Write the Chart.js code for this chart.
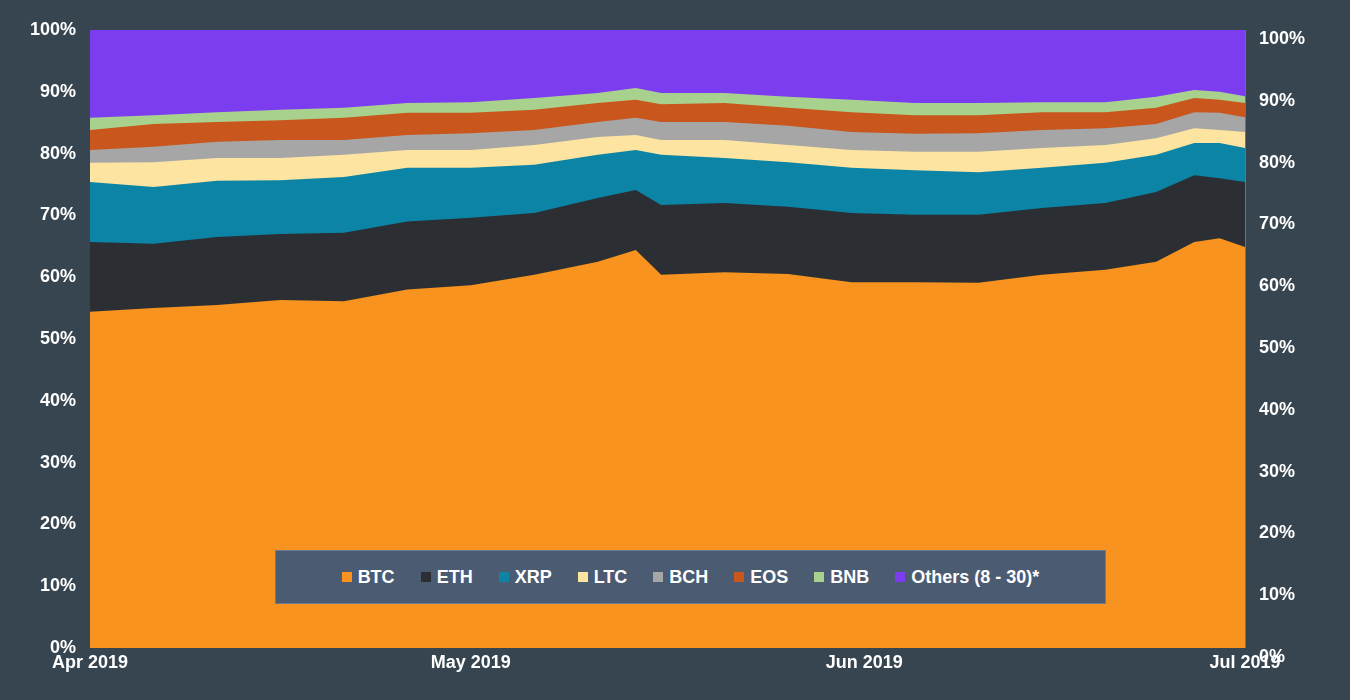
<!DOCTYPE html>
<html><head><meta charset="utf-8">
<script src="https://cdn.jsdelivr.net/npm/chart.js@4"></script>
<style>
html,body{margin:0;padding:0;background:#36454f;}
#wrap{position:relative;width:1350px;height:700px;}
#legend{position:absolute;left:275px;top:550px;width:831px;height:54px;background:#4b5b72;border:1px solid #6a7a90;box-sizing:border-box;display:flex;align-items:center;justify-content:center;gap:26px;font:bold 18px "Liberation Sans",Arial,sans-serif;color:#fff;}
#legend span.i{display:inline-flex;align-items:center;gap:6px;}
#legend b{display:inline-block;width:10px;height:10px;}
</style></head><body>
<div id="wrap"><canvas id="c" width="1350" height="700"></canvas><div id="legend"></div></div>
<script>
const days=[0,5,10,15,20,25,30,35,40,43,45,50,55,60,65,70,75,80,84,87,89,91];
const xTickDays=[0,30,61,91];
const xTickLabels=['Apr 2019','May 2019','Jun 2019','Jul 2019'];
const seriesNames=['BTC','ETH','XRP','LTC','BCH','EOS','BNB','Others (8 - 30)*'];
const seriesColors=['#f7931e','#2b2f33','#0b84a5','#fde4a0','#a6a6a6','#c9561c','#a9d18e','#7c3df0'];
const BTC=[54.4,55.0,55.5,56.3,56.1,58.0,58.7,60.4,62.5,64.4,60.4,60.8,60.5,59.2,59.2,59.1,60.4,61.2,62.5,65.7,66.3,64.9];
const ETH=[11.3,10.4,11.0,10.7,11.1,11.0,10.9,10.0,10.3,9.7,11.3,11.2,10.9,11.2,10.9,11.0,10.8,10.8,11.3,10.8,9.7,10.5];
const XRP=[9.7,9.2,9.1,8.7,9.0,8.7,8.1,7.8,7.0,6.5,8.1,7.3,7.2,7.3,7.2,6.9,6.5,6.5,6.0,5.2,5.7,5.5];
const LTC=[3.1,4.0,3.7,3.6,3.6,2.9,2.9,3.2,2.9,2.4,2.4,2.9,2.8,2.9,3.0,3.3,3.2,2.9,2.7,2.4,2.1,2.6];
const BCH=[2.1,2.5,2.6,2.9,2.4,2.4,2.7,2.4,2.4,2.8,2.9,2.9,3.1,2.9,2.9,3.0,2.9,2.7,2.3,2.6,2.8,2.4];
const EOS=[3.2,3.7,3.2,3.2,3.6,3.6,3.3,3.3,3.1,2.9,2.9,3.1,2.9,3.2,3.0,2.9,2.9,2.6,2.6,2.3,2.1,2.3];
const BNB=[2.0,1.4,1.6,1.7,1.6,1.6,1.7,1.9,1.6,1.9,1.8,1.6,1.8,2.0,2.0,2.0,1.6,1.6,1.8,1.3,1.3,1.1];
const OTHERS=[14.2,13.8,13.3,12.9,12.6,11.8,11.7,11.0,10.2,9.4,10.2,10.2,10.8,11.3,11.8,11.8,11.7,11.7,10.8,9.7,10.0,10.7];
const allSeries=[BTC,ETH,XRP,LTC,BCH,EOS,BNB,OTHERS];

const lg=document.getElementById('legend');
seriesNames.forEach((n,i)=>{const s=document.createElement('span');s.className='i';s.innerHTML='<b style="background:'+seriesColors[i]+'"></b>'+n;lg.appendChild(s);});

const font={family:'"Liberation Sans",Arial,sans-serif',size:18,weight:'bold'};
const yTicks={color:'#ffffff',font,stepSize:10,callback:v=>v+'%',padding:6};
new Chart(document.getElementById('c'),{
 type:'line',
 data:{datasets:allSeries.map((arr,i)=>({label:seriesNames[i],data:arr.map((v,j)=>({x:days[j],y:v})),backgroundColor:seriesColors[i],borderWidth:0,pointRadius:0,fill:true,tension:0}))},
 options:{responsive:false,animation:false,layout:{padding:{top:30,left:0,right:0,bottom:0}},
  plugins:{legend:{display:false},tooltip:{enabled:false}},
  scales:{
   x:{type:'linear',min:0,max:91,afterBuildTicks:s=>{s.ticks=xTickDays.map(v=>({value:v}));},
      ticks:{color:'#fff',font,callback:(v)=>xTickLabels[xTickDays.indexOf(v)],maxRotation:0,autoSkip:false,padding:4},
      grid:{color:'rgba(255,255,255,0.25)',drawTicks:false},border:{display:false},afterFit:s=>{s.height=52;}},
   y:{stacked:true,min:0,max:100,position:'left',ticks:yTicks,grid:{display:false},border:{display:false},afterFit:s=>{s.width=90;}},
   y2:{min:0,max:100,position:'right',ticks:{...yTicks,align:'start'},grid:{display:false},border:{display:false},afterFit:s=>{s.width=105;}}
  }}
});
</script></body></html>
